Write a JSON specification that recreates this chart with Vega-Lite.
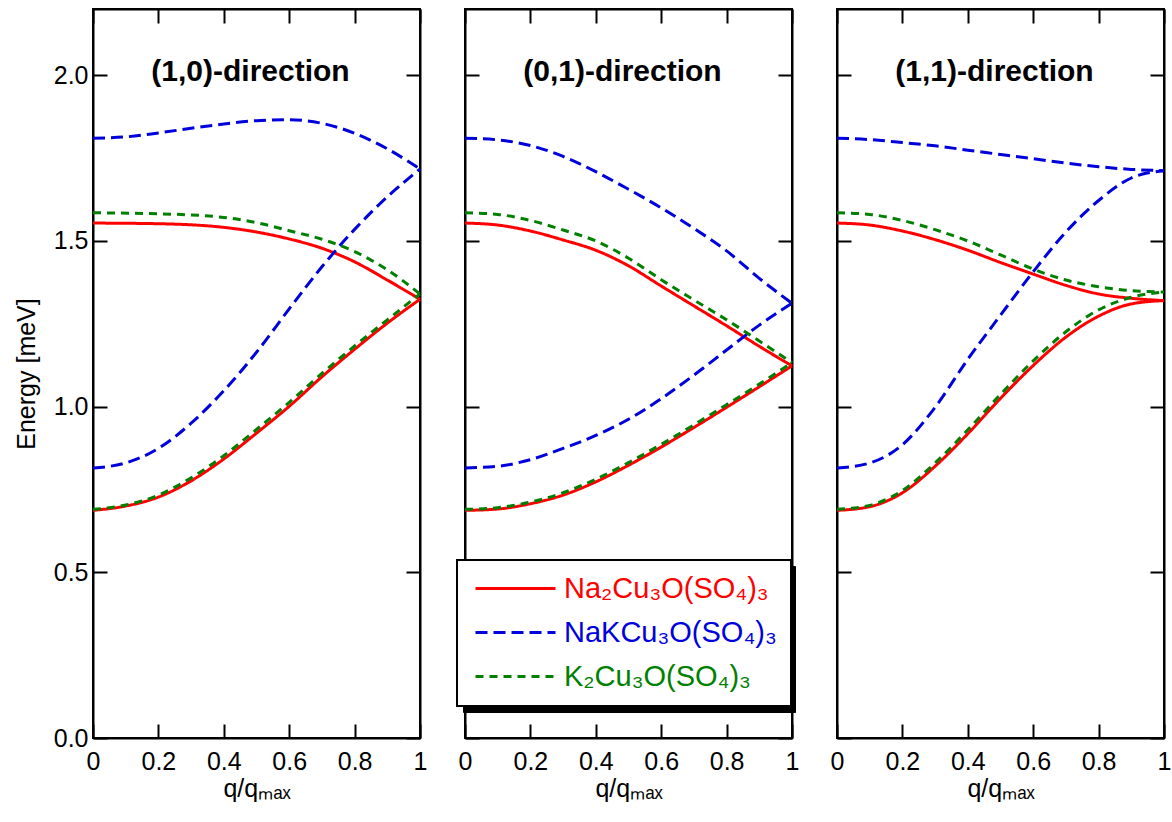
{
  "$schema": "https://vega.github.io/schema/vega-lite/v6.json",
  "background": "white",
  "padding": {"left": 13, "top": 7, "right": 5, "bottom": 5},
  "spacing": 29,
  "config": {
    "view": {"stroke": "black", "strokeWidth": 2},
    "axis": {"domainColor": "black", "domainWidth": 2, "tickColor": "black", "tickWidth": 2, "tickSize": -14, "labelPadding": 20, "labelFont": "Liberation Sans", "labelFontSize": 25, "labelColor": "black", "titleFont": "Liberation Sans", "titleFontSize": 25, "titleFontWeight": "normal", "titleColor": "black", "grid": false},
    "axisBottom": {"labelPadding": 25},
    "axisLeft": {"labelPadding": 19},
    "title": {"font": "Liberation Sans", "fontSize": 30, "fontWeight": "bold", "color": "black", "anchor": "middle", "offset": -79, "dx": -6}
  },
  "datasets": {
    "bands": [
      {"d": "(1,0)", "c": "Na₂Cu₃O(SO₄)₃", "b": "up", "q": 0, "E": 1.554}, {"d": "(1,0)", "c": "Na₂Cu₃O(SO₄)₃", "b": "up", "q": 0.2, "E": 1.552}, {"d": "(1,0)", "c": "Na₂Cu₃O(SO₄)₃", "b": "up", "q": 0.4, "E": 1.541}, {"d": "(1,0)", "c": "Na₂Cu₃O(SO₄)₃", "b": "up", "q": 0.5, "E": 1.527}, {"d": "(1,0)", "c": "Na₂Cu₃O(SO₄)₃", "b": "up", "q": 0.6, "E": 1.506}, {"d": "(1,0)", "c": "Na₂Cu₃O(SO₄)₃", "b": "up", "q": 0.7, "E": 1.478}, {"d": "(1,0)", "c": "Na₂Cu₃O(SO₄)₃", "b": "up", "q": 0.8, "E": 1.437}, {"d": "(1,0)", "c": "Na₂Cu₃O(SO₄)₃", "b": "up", "q": 0.9, "E": 1.382}, {"d": "(1,0)", "c": "Na₂Cu₃O(SO₄)₃", "b": "up", "q": 1, "E": 1.324},
      {"d": "(1,0)", "c": "Na₂Cu₃O(SO₄)₃", "b": "lo", "q": 0, "E": 0.687}, {"d": "(1,0)", "c": "Na₂Cu₃O(SO₄)₃", "b": "lo", "q": 0.1, "E": 0.700}, {"d": "(1,0)", "c": "Na₂Cu₃O(SO₄)₃", "b": "lo", "q": 0.2, "E": 0.727}, {"d": "(1,0)", "c": "Na₂Cu₃O(SO₄)₃", "b": "lo", "q": 0.3, "E": 0.776}, {"d": "(1,0)", "c": "Na₂Cu₃O(SO₄)₃", "b": "lo", "q": 0.4, "E": 0.842}, {"d": "(1,0)", "c": "Na₂Cu₃O(SO₄)₃", "b": "lo", "q": 0.5, "E": 0.920}, {"d": "(1,0)", "c": "Na₂Cu₃O(SO₄)₃", "b": "lo", "q": 0.6, "E": 1.001}, {"d": "(1,0)", "c": "Na₂Cu₃O(SO₄)₃", "b": "lo", "q": 0.7, "E": 1.090}, {"d": "(1,0)", "c": "Na₂Cu₃O(SO₄)₃", "b": "lo", "q": 0.8, "E": 1.173}, {"d": "(1,0)", "c": "Na₂Cu₃O(SO₄)₃", "b": "lo", "q": 0.9, "E": 1.252}, {"d": "(1,0)", "c": "Na₂Cu₃O(SO₄)₃", "b": "lo", "q": 1, "E": 1.324},
      {"d": "(0,1)", "c": "Na₂Cu₃O(SO₄)₃", "b": "up", "q": 0, "E": 1.554}, {"d": "(0,1)", "c": "Na₂Cu₃O(SO₄)₃", "b": "up", "q": 0.1, "E": 1.548}, {"d": "(0,1)", "c": "Na₂Cu₃O(SO₄)₃", "b": "up", "q": 0.2, "E": 1.530}, {"d": "(0,1)", "c": "Na₂Cu₃O(SO₄)₃", "b": "up", "q": 0.3, "E": 1.503}, {"d": "(0,1)", "c": "Na₂Cu₃O(SO₄)₃", "b": "up", "q": 0.4, "E": 1.472}, {"d": "(0,1)", "c": "Na₂Cu₃O(SO₄)₃", "b": "up", "q": 0.5, "E": 1.425}, {"d": "(0,1)", "c": "Na₂Cu₃O(SO₄)₃", "b": "up", "q": 0.6, "E": 1.364}, {"d": "(0,1)", "c": "Na₂Cu₃O(SO₄)₃", "b": "up", "q": 0.7, "E": 1.304}, {"d": "(0,1)", "c": "Na₂Cu₃O(SO₄)₃", "b": "up", "q": 0.8, "E": 1.244}, {"d": "(0,1)", "c": "Na₂Cu₃O(SO₄)₃", "b": "up", "q": 0.9, "E": 1.182}, {"d": "(0,1)", "c": "Na₂Cu₃O(SO₄)₃", "b": "up", "q": 1, "E": 1.123},
      {"d": "(0,1)", "c": "Na₂Cu₃O(SO₄)₃", "b": "lo", "q": 0, "E": 0.687}, {"d": "(0,1)", "c": "Na₂Cu₃O(SO₄)₃", "b": "lo", "q": 0.1, "E": 0.691}, {"d": "(0,1)", "c": "Na₂Cu₃O(SO₄)₃", "b": "lo", "q": 0.2, "E": 0.707}, {"d": "(0,1)", "c": "Na₂Cu₃O(SO₄)₃", "b": "lo", "q": 0.3, "E": 0.733}, {"d": "(0,1)", "c": "Na₂Cu₃O(SO₄)₃", "b": "lo", "q": 0.4, "E": 0.773}, {"d": "(0,1)", "c": "Na₂Cu₃O(SO₄)₃", "b": "lo", "q": 0.5, "E": 0.823}, {"d": "(0,1)", "c": "Na₂Cu₃O(SO₄)₃", "b": "lo", "q": 0.6, "E": 0.878}, {"d": "(0,1)", "c": "Na₂Cu₃O(SO₄)₃", "b": "lo", "q": 0.7, "E": 0.937}, {"d": "(0,1)", "c": "Na₂Cu₃O(SO₄)₃", "b": "lo", "q": 0.8, "E": 0.998}, {"d": "(0,1)", "c": "Na₂Cu₃O(SO₄)₃", "b": "lo", "q": 0.9, "E": 1.060}, {"d": "(0,1)", "c": "Na₂Cu₃O(SO₄)₃", "b": "lo", "q": 1, "E": 1.123},
      {"d": "(1,1)", "c": "Na₂Cu₃O(SO₄)₃", "b": "up", "q": 0, "E": 1.554}, {"d": "(1,1)", "c": "Na₂Cu₃O(SO₄)₃", "b": "up", "q": 0.1, "E": 1.548}, {"d": "(1,1)", "c": "Na₂Cu₃O(SO₄)₃", "b": "up", "q": 0.2, "E": 1.530}, {"d": "(1,1)", "c": "Na₂Cu₃O(SO₄)₃", "b": "up", "q": 0.3, "E": 1.504}, {"d": "(1,1)", "c": "Na₂Cu₃O(SO₄)₃", "b": "up", "q": 0.4, "E": 1.472}, {"d": "(1,1)", "c": "Na₂Cu₃O(SO₄)₃", "b": "up", "q": 0.5, "E": 1.435}, {"d": "(1,1)", "c": "Na₂Cu₃O(SO₄)₃", "b": "up", "q": 0.6, "E": 1.400}, {"d": "(1,1)", "c": "Na₂Cu₃O(SO₄)₃", "b": "up", "q": 0.7, "E": 1.366}, {"d": "(1,1)", "c": "Na₂Cu₃O(SO₄)₃", "b": "up", "q": 0.8, "E": 1.340}, {"d": "(1,1)", "c": "Na₂Cu₃O(SO₄)₃", "b": "up", "q": 0.9, "E": 1.327}, {"d": "(1,1)", "c": "Na₂Cu₃O(SO₄)₃", "b": "up", "q": 1, "E": 1.320},
      {"d": "(1,1)", "c": "Na₂Cu₃O(SO₄)₃", "b": "lo", "q": 0, "E": 0.687}, {"d": "(1,1)", "c": "Na₂Cu₃O(SO₄)₃", "b": "lo", "q": 0.1, "E": 0.698}, {"d": "(1,1)", "c": "Na₂Cu₃O(SO₄)₃", "b": "lo", "q": 0.2, "E": 0.740}, {"d": "(1,1)", "c": "Na₂Cu₃O(SO₄)₃", "b": "lo", "q": 0.3, "E": 0.820}, {"d": "(1,1)", "c": "Na₂Cu₃O(SO₄)₃", "b": "lo", "q": 0.4, "E": 0.918}, {"d": "(1,1)", "c": "Na₂Cu₃O(SO₄)₃", "b": "lo", "q": 0.5, "E": 1.025}, {"d": "(1,1)", "c": "Na₂Cu₃O(SO₄)₃", "b": "lo", "q": 0.6, "E": 1.124}, {"d": "(1,1)", "c": "Na₂Cu₃O(SO₄)₃", "b": "lo", "q": 0.7, "E": 1.210}, {"d": "(1,1)", "c": "Na₂Cu₃O(SO₄)₃", "b": "lo", "q": 0.8, "E": 1.273}, {"d": "(1,1)", "c": "Na₂Cu₃O(SO₄)₃", "b": "lo", "q": 0.9, "E": 1.310}, {"d": "(1,1)", "c": "Na₂Cu₃O(SO₄)₃", "b": "lo", "q": 1, "E": 1.320},

      {"d": "(1,0)", "c": "NaKCu₃O(SO₄)₃", "b": "up", "q": 0, "E": 1.810}, {"d": "(1,0)", "c": "NaKCu₃O(SO₄)₃", "b": "up", "q": 0.1, "E": 1.814}, {"d": "(1,0)", "c": "NaKCu₃O(SO₄)₃", "b": "up", "q": 0.2, "E": 1.826}, {"d": "(1,0)", "c": "NaKCu₃O(SO₄)₃", "b": "up", "q": 0.3, "E": 1.840}, {"d": "(1,0)", "c": "NaKCu₃O(SO₄)₃", "b": "up", "q": 0.4, "E": 1.853}, {"d": "(1,0)", "c": "NaKCu₃O(SO₄)₃", "b": "up", "q": 0.5, "E": 1.863}, {"d": "(1,0)", "c": "NaKCu₃O(SO₄)₃", "b": "up", "q": 0.6, "E": 1.866}, {"d": "(1,0)", "c": "NaKCu₃O(SO₄)₃", "b": "up", "q": 0.7, "E": 1.855}, {"d": "(1,0)", "c": "NaKCu₃O(SO₄)₃", "b": "up", "q": 0.8, "E": 1.825}, {"d": "(1,0)", "c": "NaKCu₃O(SO₄)₃", "b": "up", "q": 0.9, "E": 1.778}, {"d": "(1,0)", "c": "NaKCu₃O(SO₄)₃", "b": "up", "q": 1, "E": 1.717},
      {"d": "(1,0)", "c": "NaKCu₃O(SO₄)₃", "b": "lo", "q": 0, "E": 0.815}, {"d": "(1,0)", "c": "NaKCu₃O(SO₄)₃", "b": "lo", "q": 0.1, "E": 0.830}, {"d": "(1,0)", "c": "NaKCu₃O(SO₄)₃", "b": "lo", "q": 0.2, "E": 0.874}, {"d": "(1,0)", "c": "NaKCu₃O(SO₄)₃", "b": "lo", "q": 0.3, "E": 0.950}, {"d": "(1,0)", "c": "NaKCu₃O(SO₄)₃", "b": "lo", "q": 0.4, "E": 1.048}, {"d": "(1,0)", "c": "NaKCu₃O(SO₄)₃", "b": "lo", "q": 0.5, "E": 1.164}, {"d": "(1,0)", "c": "NaKCu₃O(SO₄)₃", "b": "lo", "q": 0.6, "E": 1.295}, {"d": "(1,0)", "c": "NaKCu₃O(SO₄)₃", "b": "lo", "q": 0.7, "E": 1.422}, {"d": "(1,0)", "c": "NaKCu₃O(SO₄)₃", "b": "lo", "q": 0.8, "E": 1.535}, {"d": "(1,0)", "c": "NaKCu₃O(SO₄)₃", "b": "lo", "q": 0.9, "E": 1.633}, {"d": "(1,0)", "c": "NaKCu₃O(SO₄)₃", "b": "lo", "q": 1, "E": 1.717},
      {"d": "(0,1)", "c": "NaKCu₃O(SO₄)₃", "b": "up", "q": 0, "E": 1.810}, {"d": "(0,1)", "c": "NaKCu₃O(SO₄)₃", "b": "up", "q": 0.1, "E": 1.805}, {"d": "(0,1)", "c": "NaKCu₃O(SO₄)₃", "b": "up", "q": 0.2, "E": 1.788}, {"d": "(0,1)", "c": "NaKCu₃O(SO₄)₃", "b": "up", "q": 0.3, "E": 1.755}, {"d": "(0,1)", "c": "NaKCu₃O(SO₄)₃", "b": "up", "q": 0.4, "E": 1.709}, {"d": "(0,1)", "c": "NaKCu₃O(SO₄)₃", "b": "up", "q": 0.5, "E": 1.656}, {"d": "(0,1)", "c": "NaKCu₃O(SO₄)₃", "b": "up", "q": 0.6, "E": 1.600}, {"d": "(0,1)", "c": "NaKCu₃O(SO₄)₃", "b": "up", "q": 0.7, "E": 1.538}, {"d": "(0,1)", "c": "NaKCu₃O(SO₄)₃", "b": "up", "q": 0.8, "E": 1.470}, {"d": "(0,1)", "c": "NaKCu₃O(SO₄)₃", "b": "up", "q": 0.9, "E": 1.387}, {"d": "(0,1)", "c": "NaKCu₃O(SO₄)₃", "b": "up", "q": 1, "E": 1.312},
      {"d": "(0,1)", "c": "NaKCu₃O(SO₄)₃", "b": "lo", "q": 0, "E": 0.815}, {"d": "(0,1)", "c": "NaKCu₃O(SO₄)₃", "b": "lo", "q": 0.1, "E": 0.820}, {"d": "(0,1)", "c": "NaKCu₃O(SO₄)₃", "b": "lo", "q": 0.2, "E": 0.840}, {"d": "(0,1)", "c": "NaKCu₃O(SO₄)₃", "b": "lo", "q": 0.3, "E": 0.874}, {"d": "(0,1)", "c": "NaKCu₃O(SO₄)₃", "b": "lo", "q": 0.4, "E": 0.913}, {"d": "(0,1)", "c": "NaKCu₃O(SO₄)₃", "b": "lo", "q": 0.5, "E": 0.962}, {"d": "(0,1)", "c": "NaKCu₃O(SO₄)₃", "b": "lo", "q": 0.6, "E": 1.024}, {"d": "(0,1)", "c": "NaKCu₃O(SO₄)₃", "b": "lo", "q": 0.7, "E": 1.095}, {"d": "(0,1)", "c": "NaKCu₃O(SO₄)₃", "b": "lo", "q": 0.8, "E": 1.171}, {"d": "(0,1)", "c": "NaKCu₃O(SO₄)₃", "b": "lo", "q": 0.9, "E": 1.246}, {"d": "(0,1)", "c": "NaKCu₃O(SO₄)₃", "b": "lo", "q": 1, "E": 1.312},
      {"d": "(1,1)", "c": "NaKCu₃O(SO₄)₃", "b": "up", "q": 0, "E": 1.810}, {"d": "(1,1)", "c": "NaKCu₃O(SO₄)₃", "b": "up", "q": 0.1, "E": 1.806}, {"d": "(1,1)", "c": "NaKCu₃O(SO₄)₃", "b": "up", "q": 0.2, "E": 1.797}, {"d": "(1,1)", "c": "NaKCu₃O(SO₄)₃", "b": "up", "q": 0.3, "E": 1.787}, {"d": "(1,1)", "c": "NaKCu₃O(SO₄)₃", "b": "up", "q": 0.4, "E": 1.774}, {"d": "(1,1)", "c": "NaKCu₃O(SO₄)₃", "b": "up", "q": 0.5, "E": 1.761}, {"d": "(1,1)", "c": "NaKCu₃O(SO₄)₃", "b": "up", "q": 0.6, "E": 1.748}, {"d": "(1,1)", "c": "NaKCu₃O(SO₄)₃", "b": "up", "q": 0.7, "E": 1.735}, {"d": "(1,1)", "c": "NaKCu₃O(SO₄)₃", "b": "up", "q": 0.8, "E": 1.724}, {"d": "(1,1)", "c": "NaKCu₃O(SO₄)₃", "b": "up", "q": 0.9, "E": 1.716}, {"d": "(1,1)", "c": "NaKCu₃O(SO₄)₃", "b": "up", "q": 1, "E": 1.712},
      {"d": "(1,1)", "c": "NaKCu₃O(SO₄)₃", "b": "lo", "q": 0, "E": 0.815}, {"d": "(1,1)", "c": "NaKCu₃O(SO₄)₃", "b": "lo", "q": 0.1, "E": 0.830}, {"d": "(1,1)", "c": "NaKCu₃O(SO₄)₃", "b": "lo", "q": 0.2, "E": 0.885}, {"d": "(1,1)", "c": "NaKCu₃O(SO₄)₃", "b": "lo", "q": 0.3, "E": 0.998}, {"d": "(1,1)", "c": "NaKCu₃O(SO₄)₃", "b": "lo", "q": 0.4, "E": 1.143}, {"d": "(1,1)", "c": "NaKCu₃O(SO₄)₃", "b": "lo", "q": 0.5, "E": 1.276}, {"d": "(1,1)", "c": "NaKCu₃O(SO₄)₃", "b": "lo", "q": 0.6, "E": 1.407}, {"d": "(1,1)", "c": "NaKCu₃O(SO₄)₃", "b": "lo", "q": 0.7, "E": 1.527}, {"d": "(1,1)", "c": "NaKCu₃O(SO₄)₃", "b": "lo", "q": 0.8, "E": 1.622}, {"d": "(1,1)", "c": "NaKCu₃O(SO₄)₃", "b": "lo", "q": 0.9, "E": 1.690}, {"d": "(1,1)", "c": "NaKCu₃O(SO₄)₃", "b": "lo", "q": 1, "E": 1.712},

      {"d": "(1,0)", "c": "K₂Cu₃O(SO₄)₃", "b": "up", "q": 0, "E": 1.585}, {"d": "(1,0)", "c": "K₂Cu₃O(SO₄)₃", "b": "up", "q": 0.2, "E": 1.582}, {"d": "(1,0)", "c": "K₂Cu₃O(SO₄)₃", "b": "up", "q": 0.4, "E": 1.571}, {"d": "(1,0)", "c": "K₂Cu₃O(SO₄)₃", "b": "up", "q": 0.5, "E": 1.555}, {"d": "(1,0)", "c": "K₂Cu₃O(SO₄)₃", "b": "up", "q": 0.6, "E": 1.531}, {"d": "(1,0)", "c": "K₂Cu₃O(SO₄)₃", "b": "up", "q": 0.7, "E": 1.505}, {"d": "(1,0)", "c": "K₂Cu₃O(SO₄)₃", "b": "up", "q": 0.8, "E": 1.468}, {"d": "(1,0)", "c": "K₂Cu₃O(SO₄)₃", "b": "up", "q": 0.9, "E": 1.413}, {"d": "(1,0)", "c": "K₂Cu₃O(SO₄)₃", "b": "up", "q": 1, "E": 1.340},
      {"d": "(1,0)", "c": "K₂Cu₃O(SO₄)₃", "b": "lo", "q": 0, "E": 0.690}, {"d": "(1,0)", "c": "K₂Cu₃O(SO₄)₃", "b": "lo", "q": 0.1, "E": 0.703}, {"d": "(1,0)", "c": "K₂Cu₃O(SO₄)₃", "b": "lo", "q": 0.2, "E": 0.733}, {"d": "(1,0)", "c": "K₂Cu₃O(SO₄)₃", "b": "lo", "q": 0.3, "E": 0.785}, {"d": "(1,0)", "c": "K₂Cu₃O(SO₄)₃", "b": "lo", "q": 0.4, "E": 0.852}, {"d": "(1,0)", "c": "K₂Cu₃O(SO₄)₃", "b": "lo", "q": 0.5, "E": 0.931}, {"d": "(1,0)", "c": "K₂Cu₃O(SO₄)₃", "b": "lo", "q": 0.6, "E": 1.013}, {"d": "(1,0)", "c": "K₂Cu₃O(SO₄)₃", "b": "lo", "q": 0.7, "E": 1.100}, {"d": "(1,0)", "c": "K₂Cu₃O(SO₄)₃", "b": "lo", "q": 0.8, "E": 1.183}, {"d": "(1,0)", "c": "K₂Cu₃O(SO₄)₃", "b": "lo", "q": 0.9, "E": 1.262}, {"d": "(1,0)", "c": "K₂Cu₃O(SO₄)₃", "b": "lo", "q": 1, "E": 1.340},
      {"d": "(0,1)", "c": "K₂Cu₃O(SO₄)₃", "b": "up", "q": 0, "E": 1.585}, {"d": "(0,1)", "c": "K₂Cu₃O(SO₄)₃", "b": "up", "q": 0.1, "E": 1.580}, {"d": "(0,1)", "c": "K₂Cu₃O(SO₄)₃", "b": "up", "q": 0.2, "E": 1.562}, {"d": "(0,1)", "c": "K₂Cu₃O(SO₄)₃", "b": "up", "q": 0.3, "E": 1.533}, {"d": "(0,1)", "c": "K₂Cu₃O(SO₄)₃", "b": "up", "q": 0.4, "E": 1.500}, {"d": "(0,1)", "c": "K₂Cu₃O(SO₄)₃", "b": "up", "q": 0.5, "E": 1.448}, {"d": "(0,1)", "c": "K₂Cu₃O(SO₄)₃", "b": "up", "q": 0.6, "E": 1.383}, {"d": "(0,1)", "c": "K₂Cu₃O(SO₄)₃", "b": "up", "q": 0.7, "E": 1.322}, {"d": "(0,1)", "c": "K₂Cu₃O(SO₄)₃", "b": "up", "q": 0.8, "E": 1.262}, {"d": "(0,1)", "c": "K₂Cu₃O(SO₄)₃", "b": "up", "q": 0.9, "E": 1.198}, {"d": "(0,1)", "c": "K₂Cu₃O(SO₄)₃", "b": "up", "q": 1, "E": 1.133},
      {"d": "(0,1)", "c": "K₂Cu₃O(SO₄)₃", "b": "lo", "q": 0, "E": 0.690}, {"d": "(0,1)", "c": "K₂Cu₃O(SO₄)₃", "b": "lo", "q": 0.1, "E": 0.695}, {"d": "(0,1)", "c": "K₂Cu₃O(SO₄)₃", "b": "lo", "q": 0.2, "E": 0.712}, {"d": "(0,1)", "c": "K₂Cu₃O(SO₄)₃", "b": "lo", "q": 0.3, "E": 0.740}, {"d": "(0,1)", "c": "K₂Cu₃O(SO₄)₃", "b": "lo", "q": 0.4, "E": 0.781}, {"d": "(0,1)", "c": "K₂Cu₃O(SO₄)₃", "b": "lo", "q": 0.5, "E": 0.831}, {"d": "(0,1)", "c": "K₂Cu₃O(SO₄)₃", "b": "lo", "q": 0.6, "E": 0.886}, {"d": "(0,1)", "c": "K₂Cu₃O(SO₄)₃", "b": "lo", "q": 0.7, "E": 0.945}, {"d": "(0,1)", "c": "K₂Cu₃O(SO₄)₃", "b": "lo", "q": 0.8, "E": 1.006}, {"d": "(0,1)", "c": "K₂Cu₃O(SO₄)₃", "b": "lo", "q": 0.9, "E": 1.068}, {"d": "(0,1)", "c": "K₂Cu₃O(SO₄)₃", "b": "lo", "q": 1, "E": 1.133},
      {"d": "(1,1)", "c": "K₂Cu₃O(SO₄)₃", "b": "up", "q": 0, "E": 1.585}, {"d": "(1,1)", "c": "K₂Cu₃O(SO₄)₃", "b": "up", "q": 0.1, "E": 1.580}, {"d": "(1,1)", "c": "K₂Cu₃O(SO₄)₃", "b": "up", "q": 0.2, "E": 1.562}, {"d": "(1,1)", "c": "K₂Cu₃O(SO₄)₃", "b": "up", "q": 0.3, "E": 1.534}, {"d": "(1,1)", "c": "K₂Cu₃O(SO₄)₃", "b": "up", "q": 0.4, "E": 1.500}, {"d": "(1,1)", "c": "K₂Cu₃O(SO₄)₃", "b": "up", "q": 0.5, "E": 1.458}, {"d": "(1,1)", "c": "K₂Cu₃O(SO₄)₃", "b": "up", "q": 0.6, "E": 1.415}, {"d": "(1,1)", "c": "K₂Cu₃O(SO₄)₃", "b": "up", "q": 0.7, "E": 1.382}, {"d": "(1,1)", "c": "K₂Cu₃O(SO₄)₃", "b": "up", "q": 0.8, "E": 1.362}, {"d": "(1,1)", "c": "K₂Cu₃O(SO₄)₃", "b": "up", "q": 0.9, "E": 1.350}, {"d": "(1,1)", "c": "K₂Cu₃O(SO₄)₃", "b": "up", "q": 1, "E": 1.346},
      {"d": "(1,1)", "c": "K₂Cu₃O(SO₄)₃", "b": "lo", "q": 0, "E": 0.690}, {"d": "(1,1)", "c": "K₂Cu₃O(SO₄)₃", "b": "lo", "q": 0.1, "E": 0.702}, {"d": "(1,1)", "c": "K₂Cu₃O(SO₄)₃", "b": "lo", "q": 0.2, "E": 0.747}, {"d": "(1,1)", "c": "K₂Cu₃O(SO₄)₃", "b": "lo", "q": 0.3, "E": 0.830}, {"d": "(1,1)", "c": "K₂Cu₃O(SO₄)₃", "b": "lo", "q": 0.4, "E": 0.930}, {"d": "(1,1)", "c": "K₂Cu₃O(SO₄)₃", "b": "lo", "q": 0.5, "E": 1.037}, {"d": "(1,1)", "c": "K₂Cu₃O(SO₄)₃", "b": "lo", "q": 0.6, "E": 1.138}, {"d": "(1,1)", "c": "K₂Cu₃O(SO₄)₃", "b": "lo", "q": 0.7, "E": 1.226}, {"d": "(1,1)", "c": "K₂Cu₃O(SO₄)₃", "b": "lo", "q": 0.8, "E": 1.292}, {"d": "(1,1)", "c": "K₂Cu₃O(SO₄)₃", "b": "lo", "q": 0.9, "E": 1.330}, {"d": "(1,1)", "c": "K₂Cu₃O(SO₄)₃", "b": "lo", "q": 1, "E": 1.346}
    ]
  },
  "hconcat": [
    {
      "width": 327, "height": 729,
      "title": {"text": "(1,0)-direction"},
      "data": {"name": "bands"},
      "transform": [{"filter": "datum.d == '(1,0)'"}],
      "layer": [
        {
          "mark": {"type": "line", "interpolate": "monotone", "strokeWidth": 3},
          "encoding": {
            "x": {"field": "q", "type": "quantitative", "scale": {"domain": [0, 1]}, "axis": {"orient": "bottom", "values": [0, 0.2, 0.4, 0.6, 0.8, 1], "labelExpr": "datum.value == 0 ? '0' : datum.value == 1 ? '1' : format(datum.value, '.1f')", "labelFlush": false, "labelOverlap": false, "title": "q/qₘₐₓ", "titlePadding": 2}},
            "y": {"field": "E", "type": "quantitative", "scale": {"domain": [0, 2.2]}, "axis": {"orient": "left", "values": [0, 0.5, 1, 1.5, 2], "format": ".1f", "title": "Energy [meV]", "titlePadding": 14, "labelFlush": false, "labelOverlap": false}},
            "color": {"field": "c", "type": "nominal", "sort": null, "scale": {"domain": ["Na₂Cu₃O(SO₄)₃", "NaKCu₃O(SO₄)₃", "K₂Cu₃O(SO₄)₃"], "range": ["#ff0000", "#0000dd", "#008000"]},
              "legend": {"orient": "none", "legendX": 364, "legendY": 551, "zindex": 2, "title": null, "symbolType": "M-1,0H7", "symbolSize": 400, "symbolStrokeWidth": 3, "labelFont": "Liberation Sans", "labelFontSize": 29, "labelOffset": 64, "labelLimit": 400, "padding": 14, "rowPadding": 14, "fillColor": "white", "strokeColor": "black",
                "encode": {"labels": {"update": {"fill": {"signal": "datum.value == 'Na₂Cu₃O(SO₄)₃' ? '#ff0000' : datum.value == 'NaKCu₃O(SO₄)₃' ? '#0000dd' : '#008000'"}}}, "legend": {"update": {"strokeWidth": {"value": 2}}}}}},
            "strokeDash": {"field": "c", "type": "nominal", "sort": null, "scale": {"domain": ["Na₂Cu₃O(SO₄)₃", "NaKCu₃O(SO₄)₃", "K₂Cu₃O(SO₄)₃"], "range": [[1, 0], [12, 6], [8, 6]]}},
            "detail": {"field": "b"}
          }
        },
        {
          "mark": {"type": "line"},
          "encoding": {
            "x": {"field": "q", "type": "quantitative", "axis": {"orient": "top", "values": [0, 0.2, 0.4, 0.6, 0.8, 1], "labels": false, "title": null}},
            "y": {"field": "E", "type": "quantitative", "axis": {"orient": "right", "values": [0, 0.5, 1, 1.5, 2], "labels": false, "title": null}},
            "opacity": {"field": "d", "type": "nominal", "scale": {"domain": ["(1,0)", "(0,1)", "(1,1)"], "range": [0, 0, 0]},
              "legend": {"orient": "none", "legendX": 370, "legendY": 557, "zindex": 1, "title": null, "symbolType": "M-1,0H7", "symbolSize": 400, "symbolStrokeWidth": 3, "symbolOpacity": 0, "labelFont": "Liberation Sans", "labelFontSize": 29, "labelOffset": 275, "labelLimit": 400, "labelColor": "black", "padding": 14, "rowPadding": 58, "fillColor": "black", "strokeColor": "black",
                "labelExpr": "''",
                "encode": {"legend": {"update": {"strokeWidth": {"value": 2}}}}}},
            "detail": {"field": "b"}
          }
        }
      ],
      "resolve": {"axis": {"x": "independent", "y": "independent"}}
    },
    {
      "width": 327, "height": 729,
      "title": {"text": "(0,1)-direction"},
      "data": {"name": "bands"},
      "transform": [{"filter": "datum.d == '(0,1)'"}],
      "layer": [
        {
          "mark": {"type": "line", "interpolate": "monotone", "strokeWidth": 3},
          "encoding": {
            "x": {"field": "q", "type": "quantitative", "scale": {"domain": [0, 1]}, "axis": {"orient": "bottom", "values": [0, 0.2, 0.4, 0.6, 0.8, 1], "labelExpr": "datum.value == 0 ? '0' : datum.value == 1 ? '1' : format(datum.value, '.1f')", "labelFlush": false, "labelOverlap": false, "title": "q/qₘₐₓ", "titlePadding": 2}},
            "y": {"field": "E", "type": "quantitative", "scale": {"domain": [0, 2.2]}, "axis": {"orient": "left", "values": [0, 0.5, 1, 1.5, 2], "labels": false, "title": null}},
            "color": {"field": "c", "type": "nominal", "sort": null},
            "strokeDash": {"field": "c", "type": "nominal", "sort": null},
            "detail": {"field": "b"}
          }
        },
        {
          "mark": {"type": "line", "opacity": 0},
          "encoding": {
            "x": {"field": "q", "type": "quantitative", "axis": {"orient": "top", "values": [0, 0.2, 0.4, 0.6, 0.8, 1], "labels": false, "title": null}},
            "y": {"field": "E", "type": "quantitative", "axis": {"orient": "right", "values": [0, 0.5, 1, 1.5, 2], "labels": false, "title": null}},
            "detail": {"field": "b"}
          }
        }
      ],
      "resolve": {"axis": {"x": "independent", "y": "independent"}}
    },
    {
      "width": 327, "height": 729,
      "title": {"text": "(1,1)-direction"},
      "data": {"name": "bands"},
      "transform": [{"filter": "datum.d == '(1,1)'"}],
      "layer": [
        {
          "mark": {"type": "line", "interpolate": "monotone", "strokeWidth": 3},
          "encoding": {
            "x": {"field": "q", "type": "quantitative", "scale": {"domain": [0, 1]}, "axis": {"orient": "bottom", "values": [0, 0.2, 0.4, 0.6, 0.8, 1], "labelExpr": "datum.value == 0 ? '0' : datum.value == 1 ? '1' : format(datum.value, '.1f')", "labelFlush": false, "labelOverlap": false, "title": "q/qₘₐₓ", "titlePadding": 2}},
            "y": {"field": "E", "type": "quantitative", "scale": {"domain": [0, 2.2]}, "axis": {"orient": "left", "values": [0, 0.5, 1, 1.5, 2], "labels": false, "title": null}},
            "color": {"field": "c", "type": "nominal", "sort": null},
            "strokeDash": {"field": "c", "type": "nominal", "sort": null},
            "detail": {"field": "b"}
          }
        },
        {
          "mark": {"type": "line", "opacity": 0},
          "encoding": {
            "x": {"field": "q", "type": "quantitative", "axis": {"orient": "top", "values": [0, 0.2, 0.4, 0.6, 0.8, 1], "labels": false, "title": null}},
            "y": {"field": "E", "type": "quantitative", "axis": {"orient": "right", "values": [0, 0.5, 1, 1.5, 2], "labels": false, "title": null}},
            "detail": {"field": "b"}
          }
        }
      ],
      "resolve": {"axis": {"x": "independent", "y": "independent"}}
    }
  ]
}
